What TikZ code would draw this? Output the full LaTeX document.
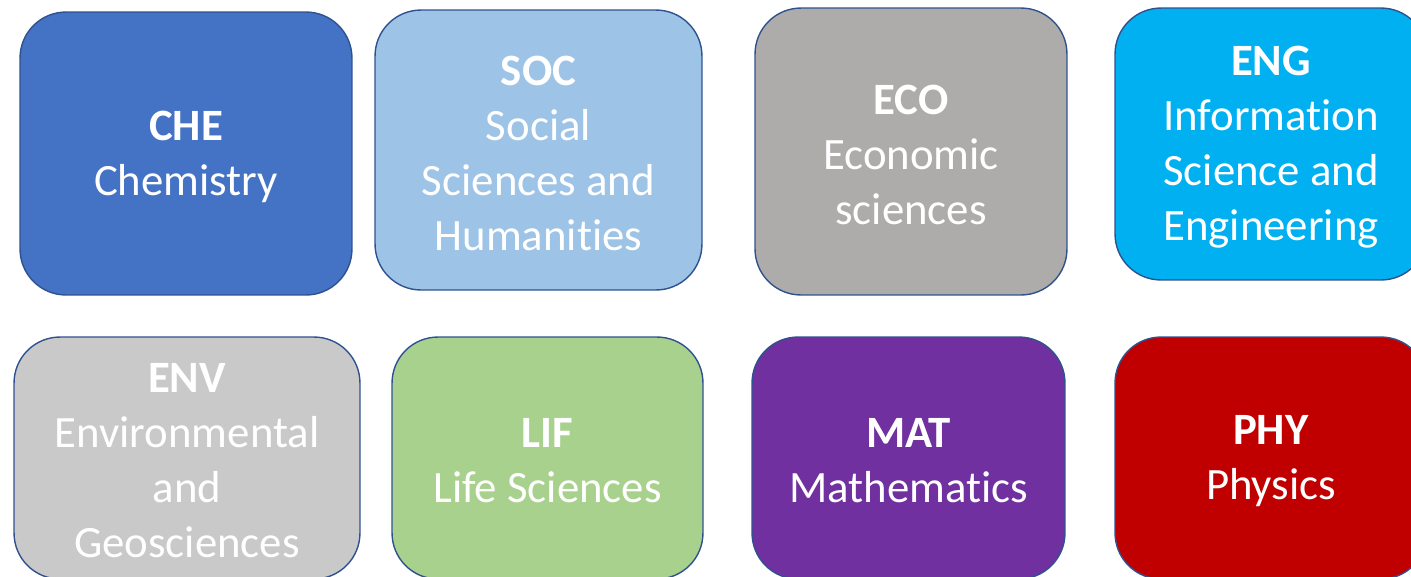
\documentclass[tikz,border=0pt]{standalone}
\usepackage{fontspec}
\setmainfont[Ligatures=NoCommon]{Carlito}
\definecolor{bordc}{HTML}{2F528F}
\definecolor{cche}{HTML}{4472C4}
\definecolor{csoc}{HTML}{9DC3E6}
\definecolor{ceco}{HTML}{AEABAB}
\definecolor{ceng}{HTML}{00B0F0}
\definecolor{cenv}{HTML}{C9C9C9}
\definecolor{clif}{HTML}{A9D18E}
\definecolor{cmat}{HTML}{7030A0}
\definecolor{cphy}{HTML}{C00000}
\begin{document}
\begin{tikzpicture}[x=0.02cm,y=-0.02cm,
  box/.style={draw=bordc, line width=0.8pt, rounded corners=0.92cm},
  lbl/.style={text=white, align=center, inner sep=0pt, yshift=-0.06cm,
    font=\fontsize{25.5}{31.3}\selectfont}]
\useasboundingbox (0,0) rectangle (1411,576);
\clip (0,0) rectangle (1411,576);
\node[box, fill=cche, minimum width=6.64cm, minimum height=5.66cm,
  label={[lbl]center:\textbf{CHE}\\Chemistry}] (che) at (186,153.5) {};
\node[box, fill=csoc, minimum width=6.54cm, minimum height=5.6cm,
  label={[lbl]center:\textbf{SOC}\\Social\\Sciences and\\Humanities}] (soc) at (538.5,150) {};
\node[box, fill=ceco, minimum width=6.24cm, minimum height=5.74cm,
  label={[lbl]center:\textbf{ECO}\\Economic\\sciences}] (eco) at (911,151.5) {};
\node[box, fill=ceng, minimum width=6.24cm, minimum height=5.44cm,
  label={[lbl]center:\textbf{ENG}\\Information\\Science and\\Engineering}] (eng) at (1271,144) {};
\node[box, fill=cenv, minimum width=6.92cm, minimum height=4.84cm,
  label={[lbl]center:\textbf{ENV}\\Environmental\\and\\Geosciences}] (env) at (187,458) {};
\node[box, fill=clif, minimum width=6.22cm, minimum height=4.84cm,
  label={[lbl]center:\textbf{LIF}\\Life Sciences}] (lif) at (547.5,458) {};
\node[box, fill=cmat, minimum width=6.26cm, minimum height=4.84cm,
  label={[lbl]center:\textbf{MAT}\\Mathematics}] (mat) at (908.5,458) {};
\node[box, fill=cphy, minimum width=6.24cm, minimum height=4.84cm,
  label={[lbl]center:\textbf{PHY}\\Physics}] (phy) at (1271,458) {};
\end{tikzpicture}
\end{document}
